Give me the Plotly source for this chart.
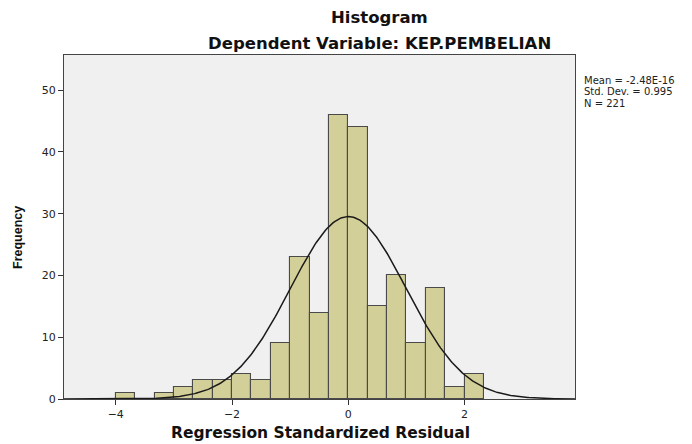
import numpy as np
import plotly.graph_objects as go

# Data
bin_starts = [-4 + i / 3 for i in range(19)]
counts = [1, 0, 1, 2, 3, 3, 4, 3, 9, 23, 14, 46, 44, 15, 20, 9, 18, 2, 4]
bin_width = 1 / 3
mean_val = -2.48e-16
std_val = 0.995
n_val = 221
x_ticks = [-4, -2, 0, 2]
y_ticks = [0, 10, 20, 30, 40, 50]
stats_lines = ["Mean = -2.48E-16", "Std. Dev. = 0.995", "N = 221"]

centers = [b + bin_width / 2 for b in bin_starts]

xs = np.linspace(-4.89, 3.9, 400)
ys = n_val * bin_width / (std_val * np.sqrt(2 * np.pi)) * np.exp(-0.5 * ((xs - mean_val) / std_val) ** 2)

WIDE = "DejaVu Sans, Verdana, sans-serif"
NARROW = "Liberation Sans, Arial, sans-serif"

fig = go.Figure()
fig.add_trace(go.Bar(
    x=centers, y=counts, width=bin_width,
    marker=dict(color="#d3cf98", line=dict(color="#4a4a4a", width=1.1)),
    hoverinfo="x+y",
))
fig.add_trace(go.Scatter(x=xs, y=ys, mode="lines", line=dict(color="#1a1a1a", width=1.5)))

annotations = [
    dict(text="<b>Histogram</b>", xref="paper", yref="paper", x=0.618, y=1.0,
         xanchor="center", yanchor="middle", yshift=38, showarrow=False,
         font=dict(size=16.5, family=WIDE, color="#111")),
    dict(text="<b>Dependent Variable: KEP.PEMBELIAN</b>", xref="paper", yref="paper",
         x=0.618, y=1.0, xanchor="center", yanchor="middle", yshift=12, showarrow=False,
         font=dict(size=16.5, family=WIDE, color="#111")),
    dict(text="<b>Regression Standardized Residual</b>", xref="paper", yref="paper",
         x=0.501, y=0, xanchor="center", yanchor="middle", yshift=-34, showarrow=False,
         font=dict(size=15.5, family=WIDE, color="#111")),
    dict(text="<b>Frequency</b>", xref="paper", yref="paper", x=0, y=0.468,
         xanchor="center", yanchor="middle", xshift=-46, textangle=-90, showarrow=False,
         font=dict(size=12.5, family=NARROW, color="#111")),
]
for i, line in enumerate(stats_lines):
    annotations.append(dict(text=line, xref="paper", yref="paper", x=1.0, y=1.0,
                            xanchor="left", yanchor="middle", xshift=7, yshift=-25 - 11.5 * i,
                            showarrow=False, font=dict(size=10, family=WIDE, color="#222")))

fig.update_layout(
    width=684, height=436,
    margin=dict(l=56, r=117, t=47, b=45),
    paper_bgcolor="white", plot_bgcolor="#f0f0f0",
    showlegend=False, bargap=0,
    font=dict(family=WIDE, size=11, color="#222"),
    xaxis=dict(range=[-4.89, 3.9], tickvals=x_ticks, ticks="outside", ticklen=5,
               tickcolor="#333", showgrid=False, zeroline=False, showline=True,
               linecolor="#444", linewidth=1, mirror=True,
               tickfont=dict(size=11, family=WIDE, color="#222")),
    yaxis=dict(range=[0, 55.7], tickvals=y_ticks, ticks="outside", ticklen=5,
               tickcolor="#333", showgrid=False, zeroline=False, showline=True,
               linecolor="#444", linewidth=1, mirror=True,
               tickfont=dict(size=11, family=WIDE, color="#222")),
    annotations=annotations,
)

fig.write_html("out.html")
